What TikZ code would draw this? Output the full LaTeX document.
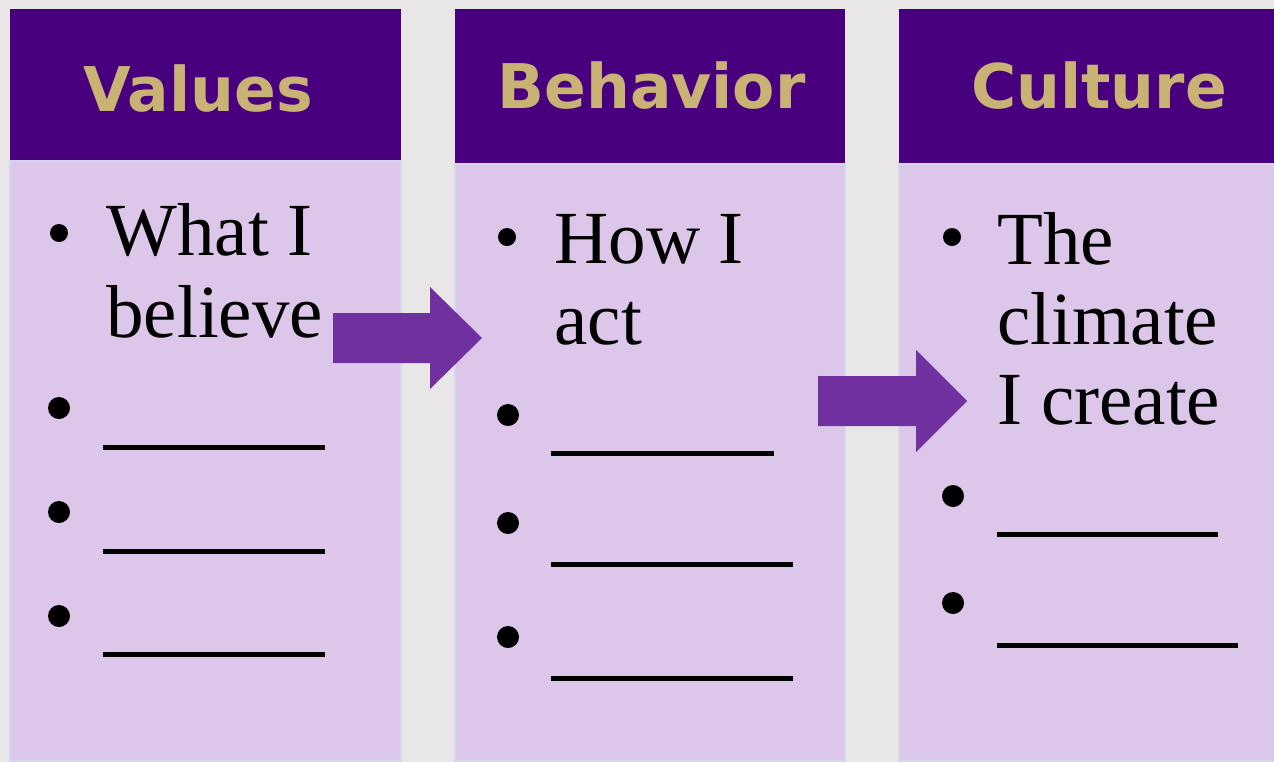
\documentclass[tikz,border=0pt]{standalone}
\usepackage{fontspec}
\setmainfont{Liberation Serif}
\newfontfamily\headfont{DejaVu Sans}
\definecolor{bgc}{HTML}{E8E6E7}
\definecolor{headc}{HTML}{48007F}
\definecolor{goldc}{HTML}{C9B374}
\definecolor{bodyc}{HTML}{DCC6EA}
\definecolor{edgec}{HTML}{D2D8EE}
\definecolor{arrowc}{HTML}{7030A0}
\tikzset{
  headbox/.style={fill=headc},
  bodybox/.style={fill=bodyc, draw=edgec, line width=1pt},
  headtext/.style={anchor=base, inner sep=0pt, text=goldc, font=\headfont\bfseries\fontsize{30.8}{36}\selectfont},
  itemtext/.style={anchor=base west, inner sep=0pt, text=black, font=\fontsize{37.5}{41}\selectfont},
  smallbullet/.style={circle, fill=black, inner sep=0pt, minimum size=9pt},
  bigbullet/.style={circle, fill=black, inner sep=0pt, minimum size=11pt},
  blankline/.style={draw=black, line width=2.5pt},
  blockarrow/.style={fill=arrowc}
}
\begin{document}
\begin{tikzpicture}[x=0.5pt, y=-0.5pt]
\clip (0,0) rectangle (1274,762);
\fill[bgc] (0,0) rectangle (1274,762);
% column 1
\path[bodybox] (10,161) rectangle (401,761);
\path[headbox] (10,9) rectangle (401,160);
\node[headtext] (h1) at (198,111) {Values};
% column 2
\path[bodybox] (455,164) rectangle (845,761);
\path[headbox] (455,9) rectangle (845,163);
\node[headtext] (h2) at (651.5,108) {Behavior};
% column 3
\path[bodybox] (899,164) rectangle (1290,761);
\path[headbox] (899,9) rectangle (1290,163);
\node[headtext] (h3) at (1099,108) {Culture};
% column 1 items
\node[smallbullet] (b11) at (59,233) {};
\node[itemtext] (t11) at (106,255) {What I};
\node[itemtext] (t12) at (106,337) {believe};
\node[bigbullet] (b12) at (59,408) {};
\node[bigbullet] (b13) at (59,512) {};
\node[bigbullet] (b14) at (59,616) {};
\draw[blankline] (103,447) -- (325,447);
\draw[blankline] (103,551) -- (325,551);
\draw[blankline] (103,654) -- (325,654);
% column 2 items
\node[smallbullet] (b21) at (507,237) {};
\node[itemtext] (t21) at (554,263) {How I};
\node[itemtext] (t22) at (554,344) {act};
\node[bigbullet] (b22) at (508,415) {};
\node[bigbullet] (b23) at (508,523) {};
\node[bigbullet] (b24) at (508,637) {};
\draw[blankline] (551,453) -- (774,453);
\draw[blankline] (551,564) -- (793,564);
\draw[blankline] (551,678) -- (793,678);
% column 3 items
\node[smallbullet] (b31) at (952,237) {};
\node[itemtext] (t31) at (997,264) {The};
\node[itemtext] (t32) at (997,344) {climate};
\node[itemtext] (t33) at (997,424) {I create};
\node[bigbullet] (b32) at (953,496) {};
\node[bigbullet] (b33) at (953,603) {};
\draw[blankline] (997,534) -- (1218,534);
\draw[blankline] (997,645) -- (1238,645);
% block arrows
\fill[blockarrow] (333,313) -- (430,313) -- (430,287) -- (482,338) -- (430,389) -- (430,363) -- (333,363) -- cycle;
\fill[blockarrow] (818,376) -- (916,376) -- (916,350) -- (967,401) -- (916,452) -- (916,426) -- (818,426) -- cycle;
\end{tikzpicture}
\end{document}
